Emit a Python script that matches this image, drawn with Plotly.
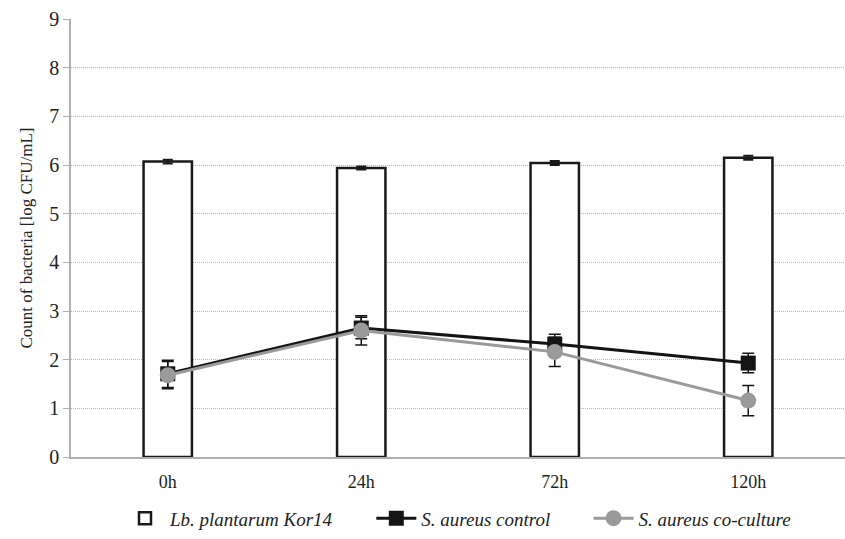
import plotly.graph_objects as go

categories = ["0h", "24h", "72h", "120h"]
lb_plantarum = [6.07, 5.94, 6.04, 6.15]
lb_plantarum_err = [0.04, 0.03, 0.04, 0.04]
sa_control = [1.71, 2.65, 2.32, 1.93]
sa_control_err = [0.28, 0.22, 0.20, 0.20]
sa_coculture = [1.68, 2.60, 2.16, 1.16]
sa_coculture_err = [0.28, 0.30, 0.30, 0.31]
series_names = ["Lb. plantarum Kor14", "S. aureus control", "S. aureus co-culture"]

font_family = "'Liberation Serif', 'Times New Roman', serif"
pad = "&nbsp;" * 7

fig = go.Figure()
fig.add_trace(go.Bar(
    x=categories, y=lb_plantarum, name="<i>" + series_names[0] + "</i>" + pad,
    width=0.25,
    marker=dict(color="white", line=dict(color="#1a1a1a", width=2.5)),
    error_y=dict(type="data", array=lb_plantarum_err, color="#1a1a1a", thickness=2, width=5),
))
fig.add_trace(go.Scatter(
    x=categories, y=sa_control, name="<i>" + series_names[1] + "</i>" + pad,
    mode="lines+markers",
    line=dict(color="#141414", width=3),
    marker=dict(symbol="square", size=15, color="#141414"),
    error_y=dict(type="data", array=sa_control_err, color="#141414", thickness=1.5, width=6),
))
fig.add_trace(go.Scatter(
    x=categories, y=sa_coculture, name="<i>" + series_names[2] + "</i>",
    mode="lines+markers",
    line=dict(color="#9a9a9a", width=3),
    marker=dict(symbol="circle", size=16, color="#9a9a9a"),
    error_y=dict(type="data", array=sa_coculture_err, color="#141414", thickness=1.5, width=6),
))

fig.update_layout(
    width=845, height=539,
    margin=dict(l=71, r=0, t=19, b=82),
    paper_bgcolor="white", plot_bgcolor="white",
    font=dict(family=font_family, size=17, color="#222222"),
    showlegend=True,
    legend=dict(orientation="h", x=0.5, xanchor="center", y=-0.14, yanchor="middle",
                font=dict(family=font_family, size=19, color="#222222"),
                itemwidth=40, tracegroupgap=0),
    bargap=0.75,
)
fig.update_xaxes(
    type="category", showgrid=False, showline=True, linecolor="#b0b0b0", linewidth=1.5,
    ticks="", tickfont=dict(size=18), ticklabelstandoff=8,
)
fig.update_yaxes(
    range=[0, 9], dtick=1, showgrid=True, gridcolor="#b8b8b8", griddash="1px,1px", gridwidth=1,
    showline=True, linecolor="#b0b0b0", linewidth=1.5, ticks="outside", ticklen=6,
    tickcolor="#b0b0b0", tickfont=dict(size=20), zeroline=False,
    title=dict(text="Count of bacteria [log CFU/mL]", font=dict(size=17), standoff=12),
)

fig.write_html("out.html")
